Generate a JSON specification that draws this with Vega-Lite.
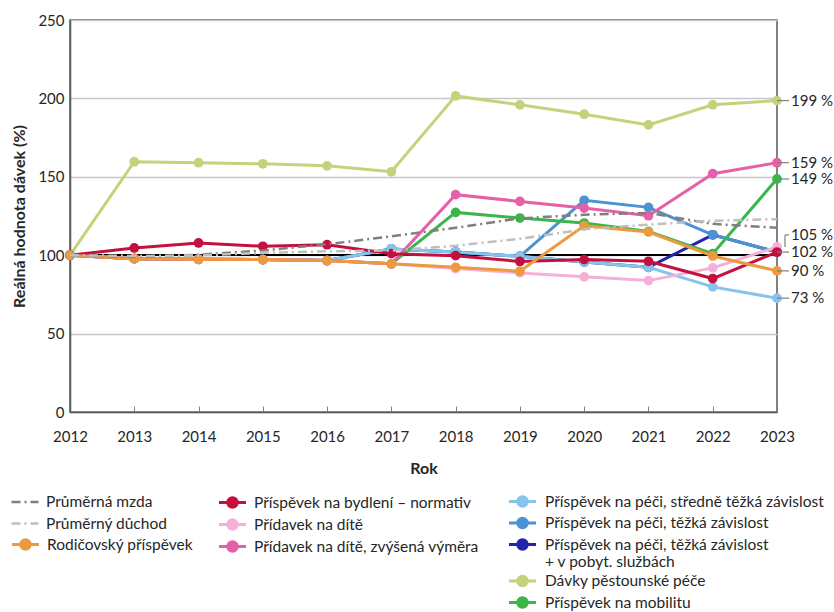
{
  "$schema": "https://vega.github.io/schema/vega-lite/v6.json",
  "width": 707,
  "height": 392,
  "autosize": {"type": "none"},
  "padding": {"left": 70, "top": 20, "right": 57, "bottom": 200},
  "config": {
    "font": "Lato",
    "view": {"stroke": "#595959", "strokeWidth": 1.5},
    "axis": {"labelFontSize": 15, "labelColor": "#262626", "titleColor": "#262626", "titleFontSize": 16, "titleFontWeight": "bold", "domainColor": "#595959", "domainWidth": 1.5, "tickColor": "#808080"},
    "legend": {"labelFontSize": 15.5, "labelColor": "#262626", "labelLimit": 400}
  },
  "datasets": {
    "d": [
      {"s": "Průměrná mzda", "r": 2012, "v": 100}, {"s": "Průměrná mzda", "r": 2013, "v": 98.8}, {"s": "Průměrná mzda", "r": 2014, "v": 100.3}, {"s": "Průměrná mzda", "r": 2015, "v": 103}, {"s": "Průměrná mzda", "r": 2016, "v": 107}, {"s": "Průměrná mzda", "r": 2017, "v": 112}, {"s": "Průměrná mzda", "r": 2018, "v": 117.5}, {"s": "Průměrná mzda", "r": 2019, "v": 123.5}, {"s": "Průměrná mzda", "r": 2020, "v": 125.8}, {"s": "Průměrná mzda", "r": 2021, "v": 127}, {"s": "Průměrná mzda", "r": 2022, "v": 120}, {"s": "Průměrná mzda", "r": 2023, "v": 117.5},
      {"s": "Průměrný důchod", "r": 2012, "v": 100}, {"s": "Průměrný důchod", "r": 2013, "v": 99.5}, {"s": "Průměrný důchod", "r": 2014, "v": 99.8}, {"s": "Průměrný důchod", "r": 2015, "v": 101.5}, {"s": "Průměrný důchod", "r": 2016, "v": 102.5}, {"s": "Průměrný důchod", "r": 2017, "v": 103}, {"s": "Průměrný důchod", "r": 2018, "v": 106}, {"s": "Průměrný důchod", "r": 2019, "v": 110.5}, {"s": "Průměrný důchod", "r": 2020, "v": 116.5}, {"s": "Průměrný důchod", "r": 2021, "v": 119.5}, {"s": "Průměrný důchod", "r": 2022, "v": 122}, {"s": "Průměrný důchod", "r": 2023, "v": 123},
      {"s": "Rodičovský příspěvek", "r": 2012, "v": 100}, {"s": "Rodičovský příspěvek", "r": 2013, "v": 97.8}, {"s": "Rodičovský příspěvek", "r": 2014, "v": 97.4}, {"s": "Rodičovský příspěvek", "r": 2015, "v": 97.2}, {"s": "Rodičovský příspěvek", "r": 2016, "v": 96.6}, {"s": "Rodičovský příspěvek", "r": 2017, "v": 94.5}, {"s": "Rodičovský příspěvek", "r": 2018, "v": 92.3}, {"s": "Rodičovský příspěvek", "r": 2019, "v": 89.8}, {"s": "Rodičovský příspěvek", "r": 2020, "v": 118.8}, {"s": "Rodičovský příspěvek", "r": 2021, "v": 114.8}, {"s": "Rodičovský příspěvek", "r": 2022, "v": 99.5}, {"s": "Rodičovský příspěvek", "r": 2023, "v": 90},
      {"s": "Přídavek na dítě", "r": 2012, "v": 100}, {"s": "Přídavek na dítě", "r": 2013, "v": 97.8}, {"s": "Přídavek na dítě", "r": 2014, "v": 97.4}, {"s": "Přídavek na dítě", "r": 2015, "v": 97.2}, {"s": "Přídavek na dítě", "r": 2016, "v": 96.6}, {"s": "Přídavek na dítě", "r": 2017, "v": 94.5}, {"s": "Přídavek na dítě", "r": 2018, "v": 91.5}, {"s": "Přídavek na dítě", "r": 2019, "v": 88.7}, {"s": "Přídavek na dítě", "r": 2020, "v": 86.2}, {"s": "Přídavek na dítě", "r": 2021, "v": 83.8}, {"s": "Přídavek na dítě", "r": 2022, "v": 91.9}, {"s": "Přídavek na dítě", "r": 2023, "v": 105.3},
      {"s": "Přídavek na dítě, zvýšená výměra", "r": 2012, "v": 100}, {"s": "Přídavek na dítě, zvýšená výměra", "r": 2013, "v": 97.8}, {"s": "Přídavek na dítě, zvýšená výměra", "r": 2014, "v": 97.4}, {"s": "Přídavek na dítě, zvýšená výměra", "r": 2015, "v": 97.2}, {"s": "Přídavek na dítě, zvýšená výměra", "r": 2016, "v": 96.6}, {"s": "Přídavek na dítě, zvýšená výměra", "r": 2017, "v": 94.5}, {"s": "Přídavek na dítě, zvýšená výměra", "r": 2018, "v": 138.6}, {"s": "Přídavek na dítě, zvýšená výměra", "r": 2019, "v": 134.3}, {"s": "Přídavek na dítě, zvýšená výměra", "r": 2020, "v": 130.1}, {"s": "Přídavek na dítě, zvýšená výměra", "r": 2021, "v": 125.2}, {"s": "Přídavek na dítě, zvýšená výměra", "r": 2022, "v": 152}, {"s": "Přídavek na dítě, zvýšená výměra", "r": 2023, "v": 159},
      {"s": "Příspěvek na bydlení – normativ", "r": 2012, "v": 100}, {"s": "Příspěvek na bydlení – normativ", "r": 2013, "v": 104.6}, {"s": "Příspěvek na bydlení – normativ", "r": 2014, "v": 107.8}, {"s": "Příspěvek na bydlení – normativ", "r": 2015, "v": 105.7}, {"s": "Příspěvek na bydlení – normativ", "r": 2016, "v": 106.7}, {"s": "Příspěvek na bydlení – normativ", "r": 2017, "v": 101}, {"s": "Příspěvek na bydlení – normativ", "r": 2018, "v": 99.7}, {"s": "Příspěvek na bydlení – normativ", "r": 2019, "v": 96}, {"s": "Příspěvek na bydlení – normativ", "r": 2020, "v": 97.2}, {"s": "Příspěvek na bydlení – normativ", "r": 2021, "v": 96.1}, {"s": "Příspěvek na bydlení – normativ", "r": 2022, "v": 85.1}, {"s": "Příspěvek na bydlení – normativ", "r": 2023, "v": 102},
      {"s": "Příspěvek na péči, těžká závislost + v pobyt. službách", "r": 2012, "v": 100}, {"s": "Příspěvek na péči, těžká závislost + v pobyt. službách", "r": 2013, "v": 97.8}, {"s": "Příspěvek na péči, těžká závislost + v pobyt. službách", "r": 2014, "v": 97.4}, {"s": "Příspěvek na péči, těžká závislost + v pobyt. službách", "r": 2015, "v": 97.2}, {"s": "Příspěvek na péči, těžká závislost + v pobyt. službách", "r": 2016, "v": 96.6}, {"s": "Příspěvek na péči, těžká závislost + v pobyt. službách", "r": 2017, "v": 104}, {"s": "Příspěvek na péči, těžká závislost + v pobyt. službách", "r": 2018, "v": 102}, {"s": "Příspěvek na péči, těžká závislost + v pobyt. službách", "r": 2019, "v": 99.3}, {"s": "Příspěvek na péči, těžká závislost + v pobyt. službách", "r": 2020, "v": 95.7}, {"s": "Příspěvek na péči, těžká závislost + v pobyt. službách", "r": 2021, "v": 92.3}, {"s": "Příspěvek na péči, těžká závislost + v pobyt. službách", "r": 2022, "v": 113}, {"s": "Příspěvek na péči, těžká závislost + v pobyt. službách", "r": 2023, "v": 102},
      {"s": "Příspěvek na péči, těžká závislost", "r": 2012, "v": 100}, {"s": "Příspěvek na péči, těžká závislost", "r": 2013, "v": 97.8}, {"s": "Příspěvek na péči, těžká závislost", "r": 2014, "v": 97.4}, {"s": "Příspěvek na péči, těžká závislost", "r": 2015, "v": 97.2}, {"s": "Příspěvek na péči, těžká závislost", "r": 2016, "v": 96.6}, {"s": "Příspěvek na péči, těžká závislost", "r": 2017, "v": 104}, {"s": "Příspěvek na péči, těžká závislost", "r": 2018, "v": 102}, {"s": "Příspěvek na péči, těžká závislost", "r": 2019, "v": 99.3}, {"s": "Příspěvek na péči, těžká závislost", "r": 2020, "v": 135}, {"s": "Příspěvek na péči, těžká závislost", "r": 2021, "v": 130.5}, {"s": "Příspěvek na péči, těžká závislost", "r": 2022, "v": 113}, {"s": "Příspěvek na péči, těžká závislost", "r": 2023, "v": 102},
      {"s": "Příspěvek na péči, středně těžká závislost", "r": 2012, "v": 100}, {"s": "Příspěvek na péči, středně těžká závislost", "r": 2013, "v": 97.8}, {"s": "Příspěvek na péči, středně těžká závislost", "r": 2014, "v": 97.4}, {"s": "Příspěvek na péči, středně těžká závislost", "r": 2015, "v": 97.2}, {"s": "Příspěvek na péči, středně těžká závislost", "r": 2016, "v": 96.6}, {"s": "Příspěvek na péči, středně těžká závislost", "r": 2017, "v": 104}, {"s": "Příspěvek na péči, středně těžká závislost", "r": 2018, "v": 102}, {"s": "Příspěvek na péči, středně těžká závislost", "r": 2019, "v": 99.3}, {"s": "Příspěvek na péči, středně těžká závislost", "r": 2020, "v": 95.7}, {"s": "Příspěvek na péči, středně těžká závislost", "r": 2021, "v": 92.3}, {"s": "Příspěvek na péči, středně těžká závislost", "r": 2022, "v": 79.8}, {"s": "Příspěvek na péči, středně těžká závislost", "r": 2023, "v": 72.6},
      {"s": "Dávky pěstounské péče", "r": 2012, "v": 100}, {"s": "Dávky pěstounské péče", "r": 2013, "v": 159.6}, {"s": "Dávky pěstounské péče", "r": 2014, "v": 159}, {"s": "Dávky pěstounské péče", "r": 2015, "v": 158.3}, {"s": "Dávky pěstounské péče", "r": 2016, "v": 157}, {"s": "Dávky pěstounské péče", "r": 2017, "v": 153.2}, {"s": "Dávky pěstounské péče", "r": 2018, "v": 201.6}, {"s": "Dávky pěstounské péče", "r": 2019, "v": 195.9}, {"s": "Dávky pěstounské péče", "r": 2020, "v": 189.9}, {"s": "Dávky pěstounské péče", "r": 2021, "v": 183.1}, {"s": "Dávky pěstounské péče", "r": 2022, "v": 195.9}, {"s": "Dávky pěstounské péče", "r": 2023, "v": 198.6},
      {"s": "Příspěvek na mobilitu", "r": 2012, "v": 100}, {"s": "Příspěvek na mobilitu", "r": 2013, "v": 97.8}, {"s": "Příspěvek na mobilitu", "r": 2014, "v": 97.4}, {"s": "Příspěvek na mobilitu", "r": 2015, "v": 97.2}, {"s": "Příspěvek na mobilitu", "r": 2016, "v": 96.6}, {"s": "Příspěvek na mobilitu", "r": 2017, "v": 94.5}, {"s": "Příspěvek na mobilitu", "r": 2018, "v": 127.3}, {"s": "Příspěvek na mobilitu", "r": 2019, "v": 123.7}, {"s": "Příspěvek na mobilitu", "r": 2020, "v": 120.5}, {"s": "Příspěvek na mobilitu", "r": 2021, "v": 115.2}, {"s": "Příspěvek na mobilitu", "r": 2022, "v": 101}, {"s": "Příspěvek na mobilitu", "r": 2023, "v": 148.6}
    ]
  },
  "data": {"name": "d"},
  "encoding": {
    "x": {"field": "r", "type": "quantitative", "title": "Rok",
      "scale": {"domain": [2012, 2023], "nice": false, "zero": false},
      "axis": {"values": [2012, 2013, 2014, 2015, 2016, 2017, 2018, 2019, 2020, 2021, 2022, 2023], "format": "d", "grid": false, "labelFlush": false, "labelOverlap": false, "tickSize": -6, "labelPadding": 23, "titlePadding": 16}},
    "y": {"field": "v", "type": "quantitative", "title": "Reálná hodnota dávek (%)",
      "scale": {"domain": [0, 250], "nice": false},
      "axis": {"values": [0, 50, 100, 150, 200, 250], "ticks": false, "labelPadding": 6, "gridColor": "#C8C8C8", "gridWidth": 1.5, "titlePadding": 10}}
  },
  "layer": [
    {"mark": {"type": "rule", "color": "#000000", "strokeWidth": 1.5}, "encoding": {"x": null, "y": {"datum": 100}}},
    {
      "transform": [{"filter": {"field": "s", "oneOf": ["Příspěvek na péči, středně těžká závislost", "Příspěvek na péči, těžká závislost", "Příspěvek na péči, těžká závislost + v pobyt. službách", "Dávky pěstounské péče", "Příspěvek na mobilitu"]}}],
      "encoding": {"color": {"field": "s", "type": "nominal",
        "scale": {"domain": ["Příspěvek na péči, středně těžká závislost", "Příspěvek na péči, těžká závislost", "Příspěvek na péči, těžká závislost + v pobyt. službách", "Dávky pěstounské péče", "Příspěvek na mobilitu"], "range": ["#86C4EC", "#4B93D1", "#2424A8", "#C5D27C", "#3CB54B"]},
        "legend": {"orient": "none", "legendX": 444, "legendY": 473, "title": null, "direction": "vertical",
          "symbolType": "M-2,0L2,0M-0.7,0A0.7,0.7,0,1,0,0.7,0A0.7,0.7,0,1,0,-0.7,0Z", "symbolSize": 182, "symbolStrokeWidth": 3, "rowPadding": -1.5, "labelOffset": 14,
          "labelExpr": "datum.label == 'Příspěvek na péči, těžká závislost + v pobyt. službách' ? ['Příspěvek na péči, těžká závislost', '+ v pobyt. službách'] : datum.label"}}},
      "layer": [
        {"mark": {"type": "line", "strokeWidth": 3}},
        {"mark": {"type": "point", "filled": true, "size": 95, "opacity": 1}}
      ]
    },
    {
      "transform": [{"filter": {"field": "s", "oneOf": ["Příspěvek na bydlení – normativ", "Přídavek na dítě", "Přídavek na dítě, zvýšená výměra"]}}],
      "encoding": {"color": {"field": "s", "type": "nominal",
        "scale": {"domain": ["Příspěvek na bydlení – normativ", "Přídavek na dítě", "Přídavek na dítě, zvýšená výměra"], "range": ["#C4103F", "#F5B0D8", "#E660A8"]},
        "legend": {"orient": "none", "legendX": 154, "legendY": 474, "title": null, "direction": "vertical",
          "symbolType": "M-2,0L2,0M-0.7,0A0.7,0.7,0,1,0,0.7,0A0.7,0.7,0,1,0,-0.7,0Z", "symbolSize": 182, "symbolStrokeWidth": 3, "rowPadding": -1, "labelOffset": 13}}},
      "layer": [
        {"mark": {"type": "line", "strokeWidth": 3}},
        {"mark": {"type": "point", "filled": true, "size": 95, "opacity": 1}}
      ]
    },
    {
      "transform": [{"filter": {"field": "s", "equal": "Rodičovský příspěvek"}}],
      "encoding": {"color": {"field": "s", "type": "nominal",
        "scale": {"domain": ["Rodičovský příspěvek"], "range": ["#EC9A3F"]},
        "legend": {"orient": "none", "legendX": -53, "legendY": 516, "title": null, "direction": "vertical",
          "symbolType": "M-2,0L2,0M-0.7,0A0.7,0.7,0,1,0,0.7,0A0.7,0.7,0,1,0,-0.7,0Z", "symbolSize": 182, "symbolStrokeWidth": 3, "rowPadding": -1, "labelOffset": 13}}},
      "layer": [
        {"mark": {"type": "line", "strokeWidth": 3}},
        {"mark": {"type": "point", "filled": true, "size": 95, "opacity": 1}}
      ]
    },
    {
      "transform": [{"filter": {"field": "s", "oneOf": ["Průměrná mzda", "Průměrný důchod"]}}],
      "mark": {"type": "line", "strokeWidth": 2.5},
      "encoding": {
        "color": {"field": "s", "type": "nominal",
          "scale": {"domain": ["Průměrná mzda", "Průměrný důchod"], "range": ["#7F7F7F", "#BFBFBF"]},
          "legend": {"orient": "none", "legendX": -53, "legendY": 474, "title": null, "direction": "vertical", "symbolType": "M-2,0L2,0", "symbolSize": 182, "symbolStrokeWidth": 2.5, "rowPadding": 4.5, "labelOffset": 13}},
        "strokeDash": {"field": "s", "type": "nominal",
          "scale": {"domain": ["Průměrná mzda", "Průměrný důchod"], "range": [[9, 4, 2, 4], [9, 4, 2, 4]]},
          "legend": {"orient": "none", "legendX": -53, "legendY": 474, "title": null, "direction": "vertical", "symbolType": "M-2,0L2,0", "symbolSize": 182, "symbolStrokeWidth": 2.5, "rowPadding": 4.5, "labelOffset": 13}}
      }
    },
    {
      "transform": [{"filter": {"field": "r", "equal": 2023}}, {"filter": {"field": "s", "oneOf": ["Dávky pěstounské péče", "Přídavek na dítě, zvýšená výměra", "Příspěvek na mobilitu", "Příspěvek na bydlení – normativ", "Rodičovský příspěvek", "Příspěvek na péči, středně těžká závislost"]}}, {"calculate": "format(datum.v, '.0f') + ' %'", "as": "lab"}],
      "layer": [
        {"mark": {"type": "rule", "color": "#808080", "strokeWidth": 1.2, "x2Offset": 12}, "encoding": {"x2": {"datum": 2023}}},
        {"mark": {"type": "text", "align": "left", "baseline": "middle", "dx": 14, "fontSize": 15, "color": "#262626"}, "encoding": {"text": {"field": "lab"}}}
      ]
    },
    {
      "transform": [{"filter": {"field": "r", "equal": 2023}}, {"filter": {"field": "s", "equal": "Přídavek na dítě"}}, {"calculate": "format(datum.v, '.0f') + ' %'", "as": "lab"}],
      "layer": [
        {"mark": {"type": "rule", "color": "#808080", "strokeWidth": 1.2, "xOffset": 8, "x2Offset": 8, "y2Offset": -12}, "encoding": {"x2": {"datum": 2023}, "y2": {"field": "v"}}},
        {"mark": {"type": "rule", "color": "#808080", "strokeWidth": 1.2, "xOffset": 8, "x2Offset": 12, "yOffset": -12}, "encoding": {"x2": {"datum": 2023}}},
        {"mark": {"type": "text", "align": "left", "baseline": "middle", "dx": 14, "dy": -12, "fontSize": 15, "color": "#262626"}, "encoding": {"text": {"field": "lab"}}}
      ]
    }
  ],
  "resolve": {"scale": {"color": "independent", "strokeDash": "independent"}, "legend": {"color": "independent", "strokeDash": "independent"}}
}
